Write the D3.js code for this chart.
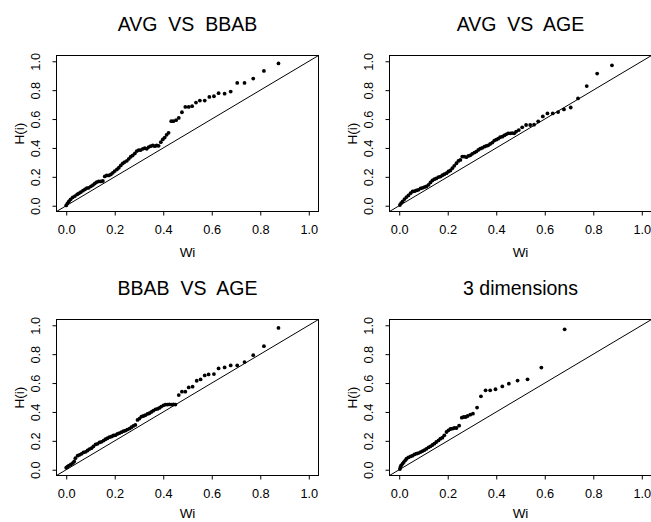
<!DOCTYPE html>
<html>
<head>
<meta charset="utf-8">
<script src="https://cdn.jsdelivr.net/npm/d3@7"></script>
<style>
  html, body { margin: 0; padding: 0; background: #fff; }
  svg { display: block; font-family: "Liberation Sans", Arial, Helvetica, sans-serif; }
</style>
</head>
<body>
<svg id="chart" width="651" height="522"></svg>
<script>
// Panel titles
const titles = ["AVG  VS  BBAB", "AVG  VS  AGE", "BBAB  VS  AGE", "3 dimensions"];

// Tick values shared by both axes
const tickValues = [0, 0.2, 0.4, 0.6, 0.8, 1.0];

// AVG vs BBAB
const wiAvgBbab = [0.000,0.005,0.011,0.018,0.027,0.036,0.045,0.052,0.060,0.069,0.077,0.085,0.093,0.102,0.110,0.118,0.126,0.134,0.143,0.151,0.159,0.167,0.176,0.184,0.192,0.200,0.209,0.217,0.225,0.233,0.241,0.250,0.258,0.266,0.274,0.283,0.291,0.299,0.307,0.316,0.324,0.332,0.340,0.348,0.357,0.365,0.373,0.381,0.390,0.398,0.406,0.414,0.422,0.433,0.442,0.453,0.464,0.477,0.491,0.505,0.519,0.535,0.551,0.571,0.590,0.609,0.628,0.653,0.678,0.705,0.735,0.771,0.815,0.875];
const hAvgBbab  = [0.002,0.016,0.030,0.044,0.058,0.067,0.078,0.085,0.094,0.104,0.113,0.122,0.124,0.134,0.143,0.154,0.164,0.168,0.168,0.171,0.203,0.210,0.210,0.217,0.228,0.240,0.251,0.263,0.279,0.293,0.302,0.311,0.325,0.339,0.348,0.362,0.378,0.385,0.385,0.394,0.399,0.394,0.406,0.412,0.417,0.412,0.417,0.415,0.440,0.459,0.472,0.491,0.505,0.585,0.585,0.592,0.608,0.647,0.684,0.684,0.689,0.714,0.728,0.728,0.753,0.758,0.779,0.776,0.790,0.850,0.850,0.880,0.933,0.985];

// AVG vs AGE
const wiAvgAge = [0.003,0.008,0.014,0.022,0.030,0.038,0.047,0.055,0.063,0.071,0.079,0.088,0.096,0.104,0.112,0.121,0.129,0.137,0.145,0.153,0.162,0.170,0.178,0.186,0.195,0.203,0.211,0.219,0.227,0.236,0.244,0.252,0.260,0.268,0.277,0.285,0.293,0.301,0.310,0.318,0.326,0.334,0.342,0.351,0.359,0.367,0.375,0.384,0.392,0.400,0.408,0.416,0.425,0.433,0.441,0.449,0.458,0.466,0.474,0.482,0.493,0.507,0.523,0.540,0.556,0.573,0.592,0.611,0.633,0.655,0.679,0.707,0.737,0.773,0.816,0.877];
const hAvgAge  = [0.005,0.018,0.030,0.046,0.060,0.071,0.087,0.099,0.101,0.106,0.110,0.120,0.124,0.129,0.133,0.145,0.161,0.175,0.184,0.189,0.198,0.202,0.211,0.218,0.225,0.237,0.244,0.260,0.276,0.294,0.310,0.317,0.340,0.340,0.336,0.345,0.349,0.359,0.368,0.375,0.386,0.395,0.400,0.409,0.414,0.418,0.428,0.437,0.451,0.457,0.464,0.474,0.478,0.487,0.494,0.501,0.501,0.503,0.501,0.513,0.524,0.543,0.559,0.559,0.561,0.584,0.618,0.639,0.639,0.648,0.667,0.680,0.743,0.828,0.915,0.972];

// BBAB vs AGE
const wiBbabAge = [0.000,0.005,0.011,0.019,0.027,0.033,0.038,0.047,0.055,0.063,0.071,0.080,0.088,0.096,0.104,0.112,0.121,0.129,0.137,0.145,0.154,0.162,0.170,0.178,0.187,0.195,0.203,0.211,0.219,0.228,0.236,0.244,0.252,0.261,0.269,0.277,0.285,0.294,0.302,0.310,0.318,0.326,0.335,0.343,0.351,0.359,0.368,0.376,0.384,0.392,0.401,0.409,0.417,0.425,0.433,0.442,0.450,0.464,0.477,0.491,0.505,0.521,0.538,0.554,0.571,0.587,0.609,0.628,0.653,0.678,0.705,0.735,0.771,0.815,0.875];
const hBbabAge  = [0.014,0.021,0.028,0.037,0.046,0.057,0.080,0.097,0.103,0.110,0.120,0.124,0.133,0.143,0.149,0.161,0.175,0.179,0.189,0.193,0.202,0.211,0.218,0.225,0.230,0.237,0.239,0.248,0.253,0.260,0.267,0.271,0.278,0.285,0.294,0.303,0.310,0.345,0.354,0.368,0.372,0.377,0.386,0.391,0.400,0.409,0.418,0.421,0.428,0.437,0.446,0.451,0.451,0.453,0.451,0.453,0.451,0.517,0.540,0.540,0.570,0.575,0.616,0.625,0.653,0.660,0.662,0.701,0.708,0.722,0.722,0.745,0.793,0.855,0.982];

// Three dimensions
const wi3d = [0.003,0.005,0.008,0.014,0.019,0.025,0.030,0.038,0.047,0.055,0.063,0.071,0.079,0.088,0.096,0.104,0.112,0.121,0.129,0.137,0.145,0.153,0.162,0.170,0.178,0.186,0.195,0.203,0.211,0.219,0.227,0.236,0.247,0.258,0.266,0.274,0.282,0.293,0.304,0.321,0.337,0.356,0.375,0.397,0.425,0.452,0.488,0.529,0.586,0.682];
const h3d  = [0.005,0.018,0.030,0.042,0.053,0.065,0.076,0.085,0.092,0.097,0.106,0.111,0.115,0.122,0.129,0.136,0.145,0.155,0.162,0.171,0.180,0.192,0.203,0.215,0.222,0.238,0.261,0.273,0.282,0.284,0.289,0.289,0.305,0.360,0.365,0.365,0.372,0.381,0.388,0.430,0.508,0.550,0.550,0.557,0.577,0.596,0.617,0.626,0.707,0.972];

const seriesWi = [wiAvgBbab, wiAvgAge, wiBbabAge, wi3d];
const seriesH  = [hAvgBbab, hAvgAge, hBbabAge, h3d];

// Plot regions (2 x 2 grid)
const colLeft = [56.5, 389.5];
const rowTop  = [55.5, 319.5];
const xTitleGap = [45.5, 42.5];
const boxW = 262, boxH = 156;
const domain = [-0.04, 1.04];

const svg = d3.select("#chart");
const fmt = d3.format(".1f");

titles.forEach((title, i) => {
  const row = Math.floor(i / 2);
  const x0 = colLeft[i % 2];
  const y0 = rowTop[row];
  const x = d3.scaleLinear().domain(domain).range([x0, x0 + boxW]);
  const y = d3.scaleLinear().domain(domain).range([y0 + boxH, y0]);
  const cx = x0 + boxW / 2;
  const cy = y0 + boxH / 2;

  const g = svg.append("g");

  // Reference line y = x, clipped to the plot region
  const clipId = "clip" + i;
  svg.append("clipPath").attr("id", clipId)
    .append("rect").attr("x", x0).attr("y", y0).attr("width", boxW).attr("height", boxH);
  g.append("line")
    .attr("clip-path", `url(#${clipId})`)
    .attr("x1", x(domain[0])).attr("y1", y(domain[0]))
    .attr("x2", x(domain[1])).attr("y2", y(domain[1]))
    .attr("stroke", "#000").attr("stroke-width", 1);

  // Points
  const pts = seriesWi[i].map((w, k) => [w, seriesH[i][k]]);
  g.selectAll("circle").data(pts).join("circle")
    .attr("cx", d => x(d[0])).attr("cy", d => y(d[1]))
    .attr("r", 1.9).attr("fill", "#000");

  // Frame
  g.append("rect")
    .attr("x", x0).attr("y", y0).attr("width", boxW).attr("height", boxH)
    .attr("fill", "none").attr("stroke", "#000").attr("stroke-width", 1);

  // Bottom axis
  const xa = g.append("g").attr("transform", `translate(0,${y0 + boxH})`)
    .call(d3.axisBottom(x).tickValues(tickValues).tickFormat(fmt).tickSizeInner(4).tickSizeOuter(0));
  xa.attr("font-size", null).attr("font-family", null);
  xa.select(".domain").remove();
  xa.selectAll("text").attr("y", 22).attr("dy", null)
    .style("font-size", "12.8px").attr("fill", "#000");

  // Left axis with rotated labels
  const ya = g.append("g").attr("transform", `translate(${x0},0)`)
    .call(d3.axisLeft(y).tickValues(tickValues).tickFormat(fmt).tickSizeInner(4).tickSizeOuter(0));
  ya.attr("font-size", null).attr("font-family", null);
  ya.select(".domain").remove();
  ya.selectAll("text")
    .attr("transform", "rotate(-90)")
    .attr("x", 0).attr("y", -16.5).attr("dy", null)
    .attr("text-anchor", "middle")
    .style("font-size", "12.8px").attr("fill", "#000");

  // Axis titles
  g.append("text")
    .attr("x", cx).attr("y", y0 + boxH + xTitleGap[row])
    .attr("text-anchor", "middle").style("font-size", "13.5px").text("Wi");
  g.append("text")
    .attr("transform", `translate(${x0 - 33},${cy}) rotate(-90)`)
    .attr("text-anchor", "middle").style("font-size", "13.5px").text("H(i)");

  // Panel title
  g.append("text")
    .attr("x", cx).attr("y", y0 - 24.5)
    .attr("text-anchor", "middle")
    .style("font-size", "19.5px").style("white-space", "pre")
    .text(title);
});
</script>
</body>
</html>
